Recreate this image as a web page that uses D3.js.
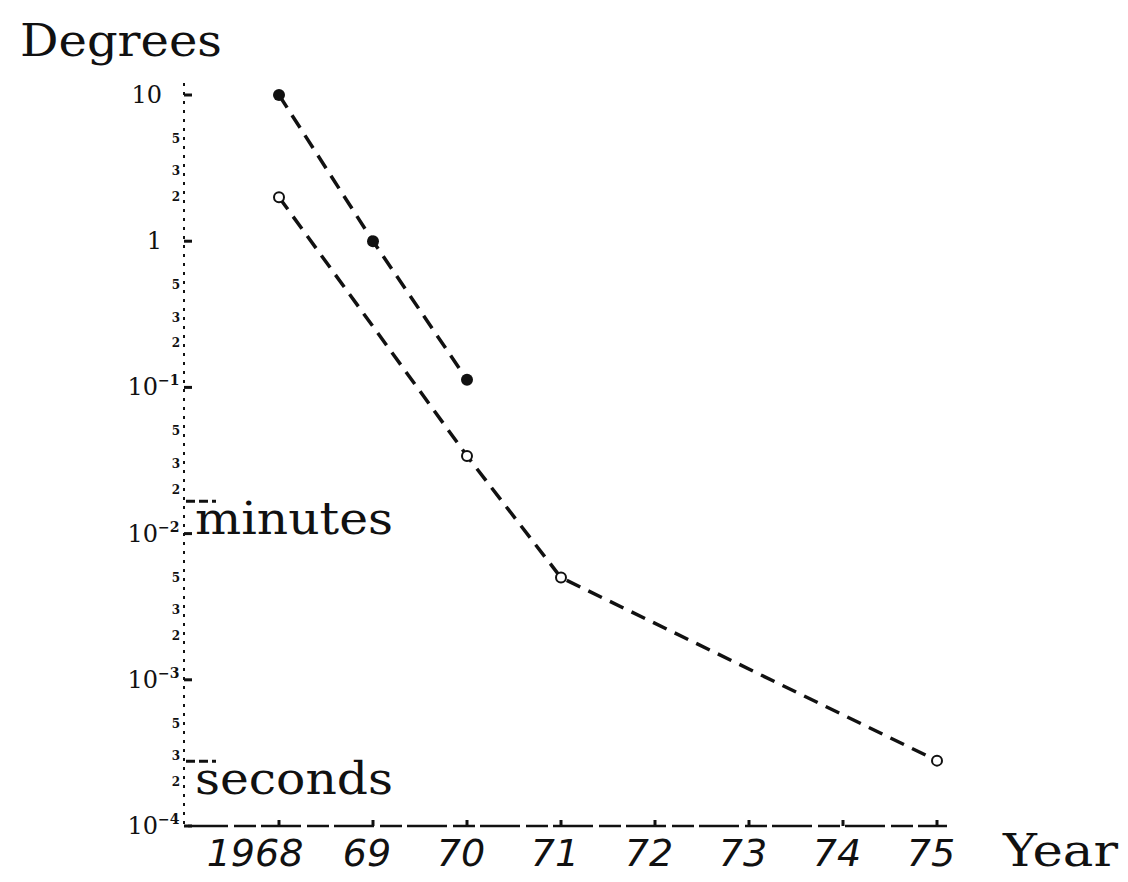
<!DOCTYPE html>
<html>
<head>
<meta charset="utf-8">
<script src="https://cdn.jsdelivr.net/npm/d3@7"></script>
<style>
  body { margin: 0; background: #fff; }
  svg { display: block; }
  .typed { font-family: "DejaVu Serif", serif; fill: #111; }
  .hand { font-family: "DejaVu Sans", sans-serif; font-style: italic; fill: #111; }
  .ylab { font-family: "DejaVu Serif", serif; fill: #111; }
</style>
</head>
<body>
<div class="chart"></div>
<script>
// years along the bottom
const years = [1968, 1969, 1970, 1971, 1972, 1973, 1974, 1975];
const yearLabels = ["1968", "69", "70", "71", "72", "73", "74", "75"];

// filled dots (upper curve), degrees
const filledYears = [1968, 1969, 1970];
const filledValues = [10, 1, 0.113];

// open circles (lower curve), degrees
const openYears = [1968, 1970, 1971, 1975];
const openValues = [2.0, 0.034, 0.0050, 0.00028];

// y axis decades and their labels (exponent, "" for none)
const decades = [10, 1, 0.1, 0.01, 0.001, 0.0001];
const decadeExp = ["", "", "-1", "-2", "-3", "-4"];
const decadeBase = ["10", "1", "10", "10", "10", "10"];
const minorDigits = [5, 3, 2];

// one minute and one second of arc, in degrees
const markers = [{ name: "minutes", value: 1 / 60 }, { name: "seconds", value: 1 / 3600 }];

const width = 1128, height = 882;

const svg = d3.select('.chart')
  .append('svg')
  .attr('width', width)
  .attr('height', height);

const x = d3.scaleLinear()
  .domain([1968, 1975])
  .range([279, 937]);

const y = d3.scaleLog()
  .domain([1e-4, 10])
  .range([826, 95]);

const axisX = 184;

// y axis, a rough dotted line with ticks pointing right
svg.append('line')
  .attr('x1', axisX).attr('x2', axisX)
  .attr('y1', y(10) - 12).attr('y2', y(1e-4))
  .attr('stroke', '#111')
  .attr('stroke-width', 2)
  .attr('stroke-dasharray', '3 6');

svg.selectAll('.ytick')
  .data(decades)
  .enter().append('line')
  .attr('class', 'ytick')
  .attr('x1', axisX).attr('x2', axisX + 8)
  .attr('y1', d => y(d)).attr('y2', d => y(d))
  .attr('stroke', '#111')
  .attr('stroke-width', 3);

// decade labels: base number, then a raised exponent
svg.selectAll('.ybase')
  .data(decades)
  .enter().append('text')
  .attr('class', 'ylab')
  .attr('x', (d, i) => decadeExp[i] ? 158 : 162)
  .attr('y', d => y(d) + 8)
  .attr('text-anchor', 'end')
  .attr('font-size', 24)
  .text((d, i) => decadeBase[i]);

svg.selectAll('.yexp')
  .data(decades)
  .enter().append('text')
  .attr('class', 'ylab')
  .attr('x', 158)
  .attr('y', d => y(d) - 2)
  .attr('font-size', 14)
  .attr('font-weight', 'bold')
  .text((d, i) => decadeExp[i].replace('-', '\u2212'));

// minor labels 5, 3, 2 inside each decade
const minors = [];
decades.slice(1).forEach(d => {
  minorDigits.forEach(m => minors.push({ v: d * m, m: m }));
});

svg.selectAll('.minor')
  .data(minors)
  .enter().append('text')
  .attr('class', 'ylab')
  .attr('x', axisX - 4)
  .attr('y', d => y(d.v) + 4)
  .attr('text-anchor', 'end')
  .attr('font-size', 12)
  .attr('font-weight', 'bold')
  .text(d => d.m);

// x axis
svg.append('line')
  .attr('x1', axisX + 4).attr('x2', x(1975) + 10)
  .attr('y1', y(1e-4)).attr('y2', y(1e-4))
  .attr('stroke', '#111')
  .attr('stroke-width', 2.5)
  .attr('stroke-dasharray', '40 6 22 5');

svg.selectAll('.xtick')
  .data(years)
  .enter().append('line')
  .attr('x1', d => x(d)).attr('x2', d => x(d))
  .attr('y1', y(1e-4)).attr('y2', y(1e-4) - 6)
  .attr('stroke', '#111')
  .attr('stroke-width', 3);

svg.selectAll('.xlab')
  .data(years)
  .enter().append('text')
  .attr('class', 'hand')
  .attr('x', (d, i) => x(d) - (i === 0 ? 24 : 6))
  .attr('y', 866)
  .attr('text-anchor', 'middle')
  .attr('font-size', 38)
  .text((d, i) => yearLabels[i]);

// minute / second markers next to the axis
svg.selectAll('.mark')
  .data(markers)
  .enter().append('line')
  .attr('x1', axisX + 2).attr('x2', axisX + 32)
  .attr('y1', d => y(d.value)).attr('y2', d => y(d.value))
  .attr('stroke', '#111')
  .attr('stroke-width', 3)
  .attr('stroke-dasharray', '9 4');

svg.selectAll('.markLabel')
  .data(markers)
  .enter().append('text')
  .attr('class', 'typed')
  .attr('x', 195)
  .attr('y', d => y(d.value) + 33)
  .attr('font-size', 44)
  .attr('textLength', 198)
  .attr('lengthAdjust', 'spacingAndGlyphs')
  .text(d => d.name);

// titles
svg.append('text')
  .attr('class', 'typed')
  .attr('x', 20)
  .attr('y', 56)
  .attr('font-size', 44)
  .attr('textLength', 202)
  .attr('lengthAdjust', 'spacingAndGlyphs')
  .text('Degrees');

svg.append('text')
  .attr('class', 'typed')
  .attr('x', 1003)
  .attr('y', 866)
  .attr('font-size', 44)
  .attr('textLength', 115)
  .attr('lengthAdjust', 'spacingAndGlyphs')
  .text('Year');

// dashed curves
const line = d3.line()
  .x(d => x(d[0]))
  .y(d => y(d[1]));

const filled = filledYears.map((yr, i) => [yr, filledValues[i]]);
const open = openYears.map((yr, i) => [yr, openValues[i]]);

[filled, open].forEach(pts => {
  svg.append('path')
    .datum(pts)
    .attr('d', line)
    .attr('fill', 'none')
    .attr('stroke', '#111')
    .attr('stroke-width', 3.5)
    .attr('stroke-dasharray', '15 9');
});

svg.selectAll('.dot')
  .data(filled)
  .enter().append('circle')
  .attr('cx', d => x(d[0]))
  .attr('cy', d => y(d[1]))
  .attr('r', 6)
  .attr('fill', '#111');

svg.selectAll('.ring')
  .data(open)
  .enter().append('circle')
  .attr('cx', d => x(d[0]))
  .attr('cy', d => y(d[1]))
  .attr('r', 5)
  .attr('fill', '#fff')
  .attr('stroke', '#111')
  .attr('stroke-width', 2);
</script>
</body>
</html>
